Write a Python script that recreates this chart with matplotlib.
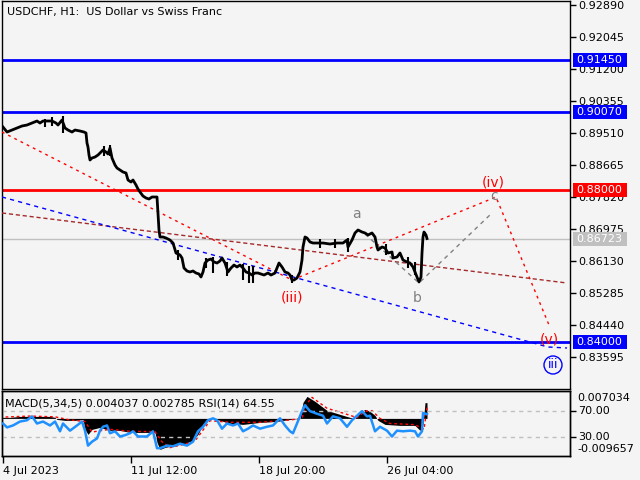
import matplotlib
matplotlib.use("Agg")
import matplotlib.pyplot as plt
import matplotlib.transforms as mtransforms
from matplotlib.patches import Rectangle

plt.rcParams.update({
    "font.family": "DejaVu Sans",
    "font.size": 8,
})

BG = "#f4f4f4"

# hourly closes, x = bar index from 4 Jul 2023
bar_x = [3, 7, 12, 17, 22, 27, 32, 37, 40, 43, 47, 52, 56, 58, 62, 65, 68, 72, 75, 80,
         84, 86, 87, 88, 89, 90, 92, 95, 98, 100, 103, 106, 108, 110, 112, 115, 117, 120, 123, 126,
         128, 131, 133, 136, 138, 140, 143, 146, 149, 152, 155, 157, 158, 159, 160, 163, 166, 170, 173, 176,
         180, 182, 184, 187, 190, 193, 196, 199, 201, 203, 205, 208, 211, 214, 217, 220, 222, 225, 228, 231,
         234, 237, 240, 243, 246, 249, 252, 255, 258, 261, 264, 268, 271, 275, 279, 282, 285, 288, 290, 292,
         294, 297, 300, 302, 303, 305, 307, 310, 313, 317, 323, 330, 337, 343, 347, 348, 352, 355, 358, 362,
         365, 368, 372, 375, 377, 378, 382, 385, 388, 392, 393, 397, 400, 403, 407, 410, 413, 417, 419, 421,
         422, 423, 424, 426, 427]
close = [0.89668, 0.89536, 0.89589, 0.89642, 0.89695, 0.89721, 0.89774, 0.89827, 0.89774, 0.89827,
         0.89827, 0.89827, 0.89774, 0.89721, 0.89853, 0.89642, 0.89589, 0.89536, 0.89589, 0.89563,
         0.89536, 0.89510, 0.89246, 0.89140, 0.88929, 0.88797, 0.88850, 0.88876, 0.88929, 0.88982,
         0.89061, 0.89008, 0.88956, 0.89114, 0.88850, 0.88665, 0.88586, 0.88533, 0.88480, 0.88454,
         0.88269, 0.88216, 0.88269, 0.88137, 0.88031, 0.87952, 0.87846, 0.87794, 0.87767, 0.87820,
         0.87820, 0.87820, 0.87398, 0.86949, 0.86764, 0.86764, 0.86737, 0.86684, 0.86605, 0.86341,
         0.86289, 0.86209, 0.85945, 0.85866, 0.85840, 0.85866, 0.85813, 0.85787, 0.85708, 0.85840,
         0.86077, 0.86156, 0.86183, 0.86104, 0.86077, 0.86130, 0.86209, 0.86077, 0.85840, 0.85945,
         0.86024, 0.85972, 0.86024, 0.85945, 0.85840, 0.85813, 0.85760, 0.85813, 0.85813, 0.85787,
         0.85760, 0.85813, 0.85760, 0.85813, 0.86077, 0.85972, 0.85840, 0.85813, 0.85760, 0.85628,
         0.85628, 0.85681, 0.85840, 0.86156, 0.86500, 0.86764, 0.86737, 0.86632, 0.86605, 0.86605,
         0.86605, 0.86579, 0.86605, 0.86605, 0.86684, 0.86500, 0.86684, 0.86870, 0.86949, 0.86896,
         0.86870, 0.86817, 0.86870, 0.86764, 0.86500, 0.86421, 0.86500, 0.86474, 0.86341, 0.86368,
         0.86209, 0.86236, 0.86341, 0.86156, 0.86104, 0.86077, 0.85972, 0.85708, 0.85576, 0.85708,
         0.86341, 0.86764, 0.86896, 0.86817, 0.86723]

# visible high/low wicks
wick_x = [45, 52, 63, 104, 110, 178, 206, 213, 227, 243, 249, 253, 292, 320, 335, 348, 386, 408, 415]
wick_hi = [0.89880, 0.89933, 0.89959, 0.89167, 0.89193, 0.86421, 0.86209, 0.86236, 0.86104, 0.86051,
           0.85998, 0.85998, 0.85760, 0.86711, 0.86711, 0.86737, 0.86579, 0.86236, 0.86104]
wick_lo = [0.89668, 0.89695, 0.89510, 0.88903, 0.88903, 0.86156, 0.85945, 0.85813, 0.85734, 0.85628,
           0.85549, 0.85549, 0.85549, 0.86474, 0.86474, 0.86368, 0.86289, 0.85945, 0.85760]

# horizontal levels
blue_levels = [0.91450, 0.90070, 0.84000]
red_levels = [0.88000]
last_price = 0.86723
price_ticks = [0.92890, 0.92045, 0.91200, 0.90355, 0.89510, 0.88665,
               0.87820, 0.86975, 0.86130, 0.85285, 0.84440, 0.83595]

# wave projection lines
red_wave_x = [2, 292, 496, 549]
red_wave_y = [0.89536, 0.85628, 0.87820, 0.84440]
brown_x = [2, 567]
brown_y = [0.87398, 0.85549]
blue_trend_x = [2, 548, 567]
blue_trend_y = [0.87820, 0.83859, 0.83833]
abc_x = [365, 419, 492]
abc_y = [0.86843, 0.85549, 0.87398]

# MACD(5,34,5) histogram and signal
macd_x = [0, 10, 20, 30, 40, 50, 55, 57, 65, 75, 83, 85, 88, 92, 100, 110, 120, 130, 145, 155,
          157, 160, 165, 175, 185, 193, 198, 203, 208, 213, 220, 230, 243, 260, 277, 290, 300, 303, 307, 315,
          327, 340, 350, 355, 360, 365, 370, 375, 378, 385, 400, 415, 420, 423, 425, 427]
macd = [0.00026, 0.00026, 0.00051, 0.00051, 0.00051, 0.00051, 0.00026, -0.00026, -0.00051, -0.00051,
        -0.00026, -0.00282, -0.00411, -0.00282, -0.00231, -0.00308, -0.00308, -0.00360, -0.00360, -0.00360,
        -0.00616, -0.00796, -0.00745, -0.00693, -0.00642, -0.00565, -0.00411, -0.00154, -0.00026, 0.0,
        -0.00051, -0.00128, -0.00154, -0.00103, -0.00077, -0.00026, 0.0, 0.00411, 0.00565, 0.00437,
        0.00205, 0.00103, 0.00026, 0.0, 0.00154, 0.00231, 0.00180, 0.00077, -0.00051, -0.00154,
        -0.00180, -0.00180, -0.00308, -0.00154, 0.00404, 0.00404]
signal_x = [0, 30, 55, 70, 85, 92, 110, 130, 155, 162, 170, 185, 195, 203, 210, 230, 260, 290, 302, 306,
            312, 327, 345, 357, 365, 372, 380, 390, 415, 424, 427]
signal = [0.0003, 0.0006, 0.0004, -0.0004, -0.0008, -0.0035, -0.0028, -0.0033, -0.0034, -0.0060,
          -0.0075, -0.0066, -0.0058, -0.0030, -0.0006, -0.0010, -0.0010, -0.0004, 0.0, 0.0035,
          0.0054, 0.0026, 0.0012, 0.0002, 0.0018, 0.0020, 0.0, -0.0013, -0.0016, -0.0028, 0.0028]

# RSI(14)
rsi_x = [3, 7, 13, 20, 27, 32, 37, 43, 50, 55, 60, 63, 70, 77, 82, 85, 88, 92, 97, 100,
         103, 107, 110, 115, 120, 125, 130, 133, 138, 147, 153, 157, 160, 167, 173, 180, 187, 193, 198, 203,
         208, 213, 217, 222, 227, 233, 238, 243, 248, 253, 260, 267, 273, 280, 285, 290, 293, 297, 302, 305,
         310, 317, 323, 327, 333, 340, 347, 352, 357, 362, 367, 370, 375, 380, 387, 392, 397, 403, 410, 415,
         418, 422, 423, 427]
rsi = [50, 44, 47, 53, 55, 61, 50, 53, 47, 53, 38, 50, 39, 47, 53, 39, 16, 22, 27, 39,
       45, 47, 35, 38, 30, 32, 35, 38, 30, 30, 38, 12, 12, 16, 15, 19, 16, 22, 38, 45,
       55, 58, 55, 42, 50, 47, 50, 38, 42, 47, 42, 45, 47, 58, 47, 38, 35, 50, 69, 78,
       69, 65, 62, 50, 61, 58, 45, 55, 62, 69, 61, 62, 38, 45, 39, 30, 39, 38, 39, 38,
       30, 38, 66, 64.55]

date_ticks = [3, 131, 259, 387]
date_labels = ["4 Jul 2023", "11 Jul 12:00", "18 Jul 20:00", "26 Jul 04:00"]

W, H = 640, 480
fig = plt.figure(figsize=(6.4, 4.8), dpi=100, facecolor=BG)

# ---- main price panel
ax = fig.add_axes([2 / W, 1 - 389 / H, 568 / W, 388 / H], facecolor=BG)
ax.set_xlim(2, 570)
ax.set_ylim(0.82750, 0.92996)

for lvl in blue_levels:
    ax.axhline(lvl, color="#0000ff", lw=2, zorder=2)
for lvl in red_levels:
    ax.axhline(lvl, color="#ff0000", lw=2, zorder=2)
ax.axhline(last_price, color="#c0c0c0", lw=1, zorder=1)

ax.plot(red_wave_x, red_wave_y, color="#ff0000", lw=1, dashes=(2, 3), zorder=3)
ax.plot(brown_x, brown_y, color="#a52a2a", lw=1, dashes=(3, 2), zorder=3)
ax.plot(blue_trend_x, blue_trend_y, color="#0000ff", lw=1, dashes=(3, 3), zorder=3)
ax.plot(abc_x, abc_y, color="#808080", lw=1, dashes=(3, 3), zorder=3)

ax.vlines(wick_x, wick_lo, wick_hi, color="black", lw=1.5, zorder=4)
ax.plot(bar_x, close, color="black", lw=2, zorder=4)

ax.text(292, 0.85179, "(iii)", color="#ff0000", fontsize=10, ha="center", va="center")
ax.text(493, 0.88190, "(iv)", color="#ff0000", fontsize=10, ha="center", va="center")
ax.text(549, 0.84070, "(v)", color="#ff0000", fontsize=10, ha="center", va="center")
ax.text(356, 0.87371, "a", color="#808080", fontsize=10, ha="center", va="center")
ax.text(417, 0.85153, "b", color="#808080", fontsize=10, ha="center", va="center")
ax.text(494, 0.87846, "c", color="#808080", fontsize=10, ha="center", va="center")
ax.text(553, 0.83384, "iii", color="#0000ff", fontsize=9, ha="center", va="center",
        bbox=dict(boxstyle="circle,pad=0.2", fc="none", ec="#0000ff", lw=1))

ax.yaxis.tick_right()
ax.set_yticks(price_ticks)
ax.set_yticklabels([f"{p:.5f}" for p in price_ticks])
ax.tick_params(axis="y", length=4, pad=2, width=1, colors="black")
ax.set_xticks([])
for s in ax.spines.values():
    s.set_color("black")
    s.set_linewidth(1)

# price boxes on the scale
tr = mtransforms.blended_transform_factory(fig.transFigure, ax.transData)
half = 7 * (0.92996 - 0.82750) / 388
boxes = [(0.91450, "#0000ff"), (0.90070, "#0000ff"), (0.88000, "#ff0000"),
         (last_price, "#c0c0c0"), (0.84000, "#0000ff")]
for val, col in boxes:
    ax.add_patch(Rectangle((573 / W, val - half), 54 / W, 2 * half, transform=tr,
                           facecolor=col, edgecolor="none", clip_on=False, zorder=5))
    ax.text(576 / W, val, f"{val:.5f}", transform=tr, color="white", fontsize=8,
            ha="left", va="center", zorder=6, clip_on=False)

fig.text(7 / W, 1 - 12 / H, "USDCHF, H1:  US Dollar vs Swiss Franc", fontsize=8,
         ha="left", va="center")

# ---- MACD / RSI panel
ax_m = fig.add_axes([2 / W, 1 - 456 / H, 568 / W, 65 / H], facecolor=BG)
ax_m.set_xlim(2, 570)
ax_m.set_ylim(-0.009657, 0.007034)
ax_m.fill_between(macd_x, 0, macd, color="black", lw=0)
ax_m.plot(signal_x, signal, color="#ff0000", lw=1, dashes=(2, 2))
ax_m.set_yticks([])
ax_m.set_xticks(date_ticks)
ax_m.set_xticklabels(date_labels, ha="left")
ax_m.tick_params(axis="x", length=5, pad=2, width=1)

ax_r = ax_m.twinx()
ax_r.set_ylim(0, 100)
ax_r.axhline(70, color="#c0c0c0", lw=1, ls=(0, (3, 3)), zorder=1)
ax_r.axhline(30, color="#c0c0c0", lw=1, ls=(0, (3, 3)), zorder=1)
ax_r.plot(rsi_x, rsi, color="#1e90ff", lw=1.8, zorder=3)
ax_r.set_yticks([70, 30])
ax_r.set_yticklabels(["70.00", "30.00"])
ax_r.tick_params(axis="y", length=4, pad=2, width=1)
for a in (ax_m, ax_r):
    for s in a.spines.values():
        s.set_color("black")
        s.set_linewidth(1)

fig.text(577 / W, 1 - 398 / H, "0.007034", fontsize=8, ha="left", va="center")
fig.text(577 / W, 1 - 449 / H, "-0.009657", fontsize=8, ha="left", va="center")
fig.text(5 / W, 1 - 403 / H, "MACD(5,34,5) 0.004037 0.002785 RSI(14) 64.55",
         fontsize=8, ha="left", va="center")

fig.savefig("out.png", dpi=100, facecolor=BG)
